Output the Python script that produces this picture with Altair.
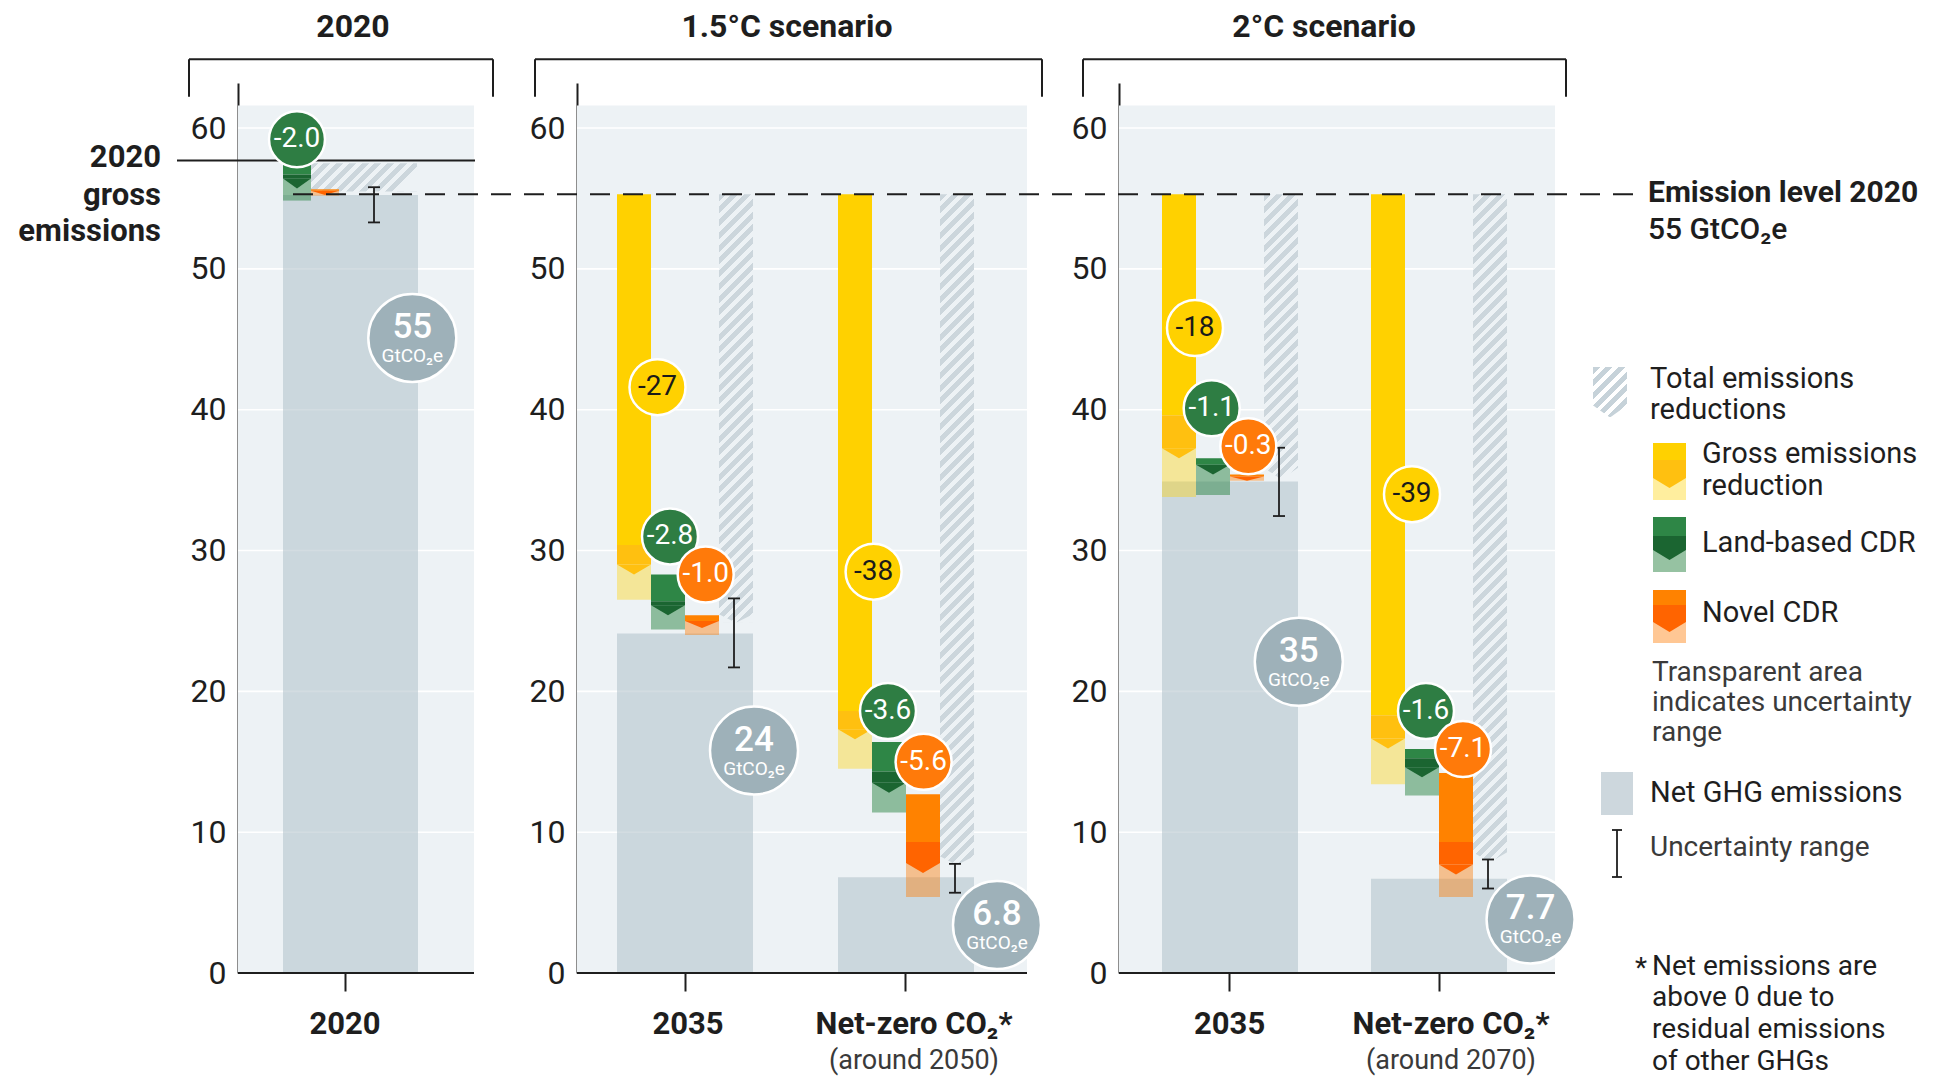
import math
import altair as alt
import pandas as pd

# ------------------------------------------------------------------ data
PANEL_TITLES = ["2020", "1.5°C scenario", "2°C scenario"]
GROUP_NAMES = [["2020"], ["2035", "Net-zero CO₂*"], ["2035", "Net-zero CO₂*"]]
GROUP_NOTES = [[""], ["", "(around 2050)"], ["", "(around 2070)"]]
Y_TICKS = [0, 10, 20, 30, 40, 50, 60]
GRID_LINES = [10, 20, 30, 40, 50, 60]

EMISSION_LEVEL_2020 = 55.3      # dashed reference line (labelled 55 GtCO2e)
GROSS_2020 = 57.7               # 2020 gross emissions line

# contribution bars: panel, group, kind, top, end of solid part, central estimate, end of range
BAR_PANEL = [0, 0, 1, 1, 1, 1, 1, 1, 2, 2, 2, 2, 2, 2]
BAR_GROUP = [0, 0, 0, 0, 0, 1, 1, 1, 0, 0, 0, 1, 1, 1]
BAR_KIND = ["land", "novel", "gross", "land", "novel", "gross", "land", "novel",
            "gross", "land", "novel", "gross", "land", "novel"]
BAR_TOP = [57.7, 55.65, 55.3, 28.3, 25.4, 55.3, 16.4, 12.7, 55.3, 36.55, 35.4, 55.3, 15.9, 14.2]
BAR_SOLID_END = [56.7, 55.55, 30.4, 26.4, 25.0, 18.6, 14.3, 9.3, 39.6, 36.1, 35.25, 18.3, 15.25, 9.3]
BAR_CENTRAL = [55.7, 55.25, 28.3, 25.4, 24.5, 16.6, 12.8, 7.1, 36.55, 35.4, 34.95, 15.95, 13.9, 7.0]
BAR_RANGE_END = [54.85, 55.2, 26.5, 24.4, 24.0, 14.5, 11.4, 5.4, 33.8, 33.95, 34.95, 13.4, 12.6, 5.4]
BAR_LABEL = ["-2.0", "", "-27", "-2.8", "-1.0", "-38", "-3.6", "-5.6",
             "-18", "-1.1", "-0.3", "-39", "-1.6", "-7.1"]
BAR_LABEL_LEVEL = [59.2, None, 41.6, 31.0, 28.3, 28.5, 18.6, 15.0, 45.8, 40.1, 37.4, 34.0, 18.6, 15.9]

# per group totals
TOT_PANEL = [0, 1, 1, 2, 2]
TOT_GROUP = [0, 0, 1, 0, 1]
TOT_TOP = [57.5, 55.3, 55.3, 55.3, 55.3]
TOT_END = [55.5, 25.5, 8.3, 35.9, 8.6]
TOT_TIP = [55.5, 24.9, 7.7, 35.1, 7.9]
NET_VALUE = [55.25, 24.1, 6.8, 34.9, 6.7]
NET_LABEL = ["55", "24", "6.8", "35", "7.7"]
NET_LABEL_LEVEL = [45.1, 15.8, 3.4, 22.1, 3.8]
UNC_HIGH = [55.8, 26.6, 7.75, 37.3, 8.06]
UNC_LOW = [53.3, 21.7, 5.7, 32.45, 6.0]

# ------------------------------------------------------------------ layout / style
FONT = "Roboto"
INK = "#1E1E1E"
GREY_TXT = "#3A3A3A"
BG = "#EDF2F5"
STRIPE = "#CCD6DC"
NET_FILL = "#B3C3CC"
NET_CIRCLE = "#9EB1B9"

PLOT_H = 890
Y_MAX = 63.2
BG_TOP = 61.6
PPU = PLOT_H / Y_MAX
PANEL_W = [247, 450, 436]
BG_W = [236, 450, 436]
SPACING = 92
GROUP_LEFT = [[45], [40, 261], [43, 252]]
SLOT_W = [28, 34, 34]
NET_W = [135, 136, 136]
TICK_X = [[107], [108, 328], [110, 320]]
NAME_X = [[107], [111, 337], [110.6, 332]]
BAR_LABEL_DX = [0, 0, 23.5, 2, 3.7, 18.6, -1, 0.6, 16, -1.3, 1.3, 24, 4, 7]
NET_LABEL_DX = [-5.7, 1, 23, 0.8, 23.6]
CHEV_PX = 10
LABEL_D = 56
NET_D = 88

KIND_STYLE = {
    "gross": dict(main="#FFD100", dark="#FFC010", pale="#FFD100", pop=0.38, circ="#FFD100", txt="#1A1A1A"),
    "land": dict(main="#2E8646", dark="#1B6531", pale="#2E8646", pop=0.5, circ="#2E7D43", txt="#FFFFFF"),
    "novel": dict(main="#FF8200", dark="#FF6400", pale="#FF7A00", pop=0.42, circ="#FF7A0A", txt="#FFFFFF"),
}
KIND_SLOT = {"gross": 0, "land": 1, "novel": 2}

ys = alt.Scale(domain=[0, Y_MAX], nice=False, zero=False)
Y_AXIS = alt.Axis(values=Y_TICKS, grid=False, ticks=False, domain=True, domainColor=INK, domainWidth=2,
                  labelFont=FONT, labelFontSize=32, labelColor=INK, labelPadding=12, title=None)


def yv(ypx):
    """pixel offset from plot top -> data units"""
    return (PLOT_H - ypx) / PPU


def hatch_fill(w, h, bgc, stripe, period=9.0, frac=0.55):
    L = (w + h) / math.sqrt(2)
    stops = []
    d = 0.0
    while d < L:
        a = d / L
        b = min(1.0, (d + period * frac) / L)
        c = min(1.0, (d + period) / L)
        stops += [dict(offset=round(a, 5), color=stripe), dict(offset=round(b, 5), color=stripe),
                  dict(offset=round(b, 5), color=bgc), dict(offset=round(c, 5), color=bgc)]
        d += period
    k = (1 / h + 1 / w) / (1 / h ** 2 + 1 / w ** 2)
    return dict(gradient="linear", x1=0, y1=0, x2=round(k / h, 6), y2=round(k / w, 6), stops=stops)


def bar_row(x0, w, kind, top, s, m, pend):
    st = KIND_STYLE[kind]
    hpx = min(CHEV_PX, max(0.5, (s - m) * PPU))
    c = m + hpx / PPU
    k = 2 * hpx / w
    return dict(x0=x0, x1=x0 + w, xc=x0 + w / 2, top=top, s=s, c=c, p=pend,
                main=st["main"], dark=st["dark"], pale=st["pale"], pop=st["pop"],
                shp=f"M-1,0L1,0L0,{k:.4f}Z", sz=w * w)


def bar_layers(df, X, Y):
    base = alt.Chart(df)
    return [
        base.mark_rect().encode(x=X("x0"), x2="x1", y=Y("c"), y2="p",
                                fill=alt.Fill("pale:N", scale=None), opacity=alt.Opacity("pop:Q", scale=None)),
        base.mark_rect().encode(x=X("x0"), x2="x1", y=Y("top"), y2="s", fill=alt.Fill("main:N", scale=None)),
        base.mark_rect().encode(x=X("x0"), x2="x1", y=Y("s"), y2="c", fill=alt.Fill("dark:N", scale=None)),
        base.mark_point(filled=True, opacity=1, strokeWidth=0).encode(
            x=X("xc"), y=Y("c"), shape=alt.Shape("shp:N", scale=None), size=alt.Size("sz:Q", scale=None),
            fill=alt.Fill("dark:N", scale=None)),
    ]


def hatch_layers(x0, x1, top, end, tip, bgc, stripe, X, Y):
    """hatched column whose bottom is pointed (tip); corners cut with background colour"""
    w = x1 - x0
    low = min(end, tip)
    h = max(1.0, (top - low) * PPU)
    df = pd.DataFrame([dict(x0=x0, x1=x1, y0=top, y1=low, xc=(x0 + x1) / 2)])
    out = [alt.Chart(df).mark_rect(fill=hatch_fill(w, h, bgc, stripe)).encode(
        x=X("x0"), x2="x1", y=Y("y0"), y2="y1")]
    tpx = (end - tip) * PPU
    if tpx > 0.5:
        k = 2 * tpx / w
        path = (f"M-1.03,{-k:.4f}L-1.03,0.03L0,0.03Z"
                f"M1.03,{-k:.4f}L1.03,0.03L0,0.03Z")
        out.append(alt.Chart(df).mark_point(filled=True, opacity=1, strokeWidth=0, fill=bgc,
                                            shape=path, size=w * w).encode(x=X("xc"), y=Y("y1")))
    return out


def rules(rows, X, Y, color=INK, width=2.0, dash=None, offset=0):
    df = pd.DataFrame([dict(x0=a, x1=b, y0=c, y1=d) for a, b, c, d in rows])
    kw = dict(color=color, strokeWidth=width)
    if dash:
        kw.update(strokeDash=dash, strokeDashOffset=offset)
    return alt.Chart(df).mark_rule(**kw).encode(x=X("x0"), x2="x1", y=Y("y0"), y2="y1")


def texts(rows, X, Y, size, weight="normal", align="left", color=INK, dy=0):
    df = pd.DataFrame([dict(x=x, y=y, t=t) for x, y, t in rows])
    return alt.Chart(df).mark_text(font=FONT, fontSize=size, fontWeight=weight, align=align,
                                   baseline="middle", color=color, dy=dy).encode(
        x=X("x"), y=Y("y"), text="t:N")


def make_panel(p):
    W, BW = PANEL_W[p], BG_W[p]
    xs = alt.Scale(domain=[0, W], nice=False, zero=False)
    x_axis = alt.Axis(values=TICK_X[p], labels=False, domain=False, grid=False, ticks=True,
                      tickSize=18, tickWidth=2, tickColor=INK, title=None)

    def X(f):
        return alt.X(f + ":Q", scale=xs, axis=x_axis)

    def Y(f):
        return alt.Y(f + ":Q", scale=ys, axis=Y_AXIS)

    L = []
    bg = pd.DataFrame({"x0": [0], "x1": [BW], "y0": [0], "y1": [BG_TOP]})
    L.append(alt.Chart(bg).mark_rect(fill=BG).encode(x=X("x0"), x2="x1", y=Y("y0"), y2="y1"))

    if p == 0:  # layout anchor (white, invisible)
        L.append(alt.Chart(pd.DataFrame([dict(x0=-230, x1=-229, y0=yv(-75), y1=yv(-74))])).mark_rect(
            fill="white").encode(x=X("x0"), x2="x1", y=Y("y0"), y2="y1"))

    # white grid lines
    L.append(rules([(0, BW, g, g) for g in GRID_LINES], X, Y, color="white", width=1.6))

    # 2020 gross line
    if p == 0:
        L.append(rules([(-61, 237, GROSS_2020, GROSS_2020)], X, Y, width=2))

    tot_idx = [i for i in range(len(TOT_PANEL)) if TOT_PANEL[i] == p]
    # net bars
    net_rows = []
    for i in tot_idx:
        g = TOT_GROUP[i]
        x0 = GROUP_LEFT[p][g]
        net_rows.append(dict(x0=x0, x1=x0 + NET_W[p], y0=0, y1=NET_VALUE[i]))
    L.append(alt.Chart(pd.DataFrame(net_rows)).mark_rect(fill=NET_FILL, opacity=0.58).encode(
        x=X("x0"), x2="x1", y=Y("y0"), y2="y1"))

    # hatched totals
    for i in tot_idx:
        g = TOT_GROUP[i]
        left = GROUP_LEFT[p][g]
        if p == 0:
            hx0, hx1 = left + SLOT_W[p], left + 134
        else:
            hx0, hx1 = left + 3 * SLOT_W[p], left + 4 * SLOT_W[p]
        L += hatch_layers(hx0, hx1, TOT_TOP[i], TOT_END[i], TOT_TIP[i], BG, STRIPE, X, Y)
        if p == 0:
            cut = pd.DataFrame([dict(x=hx1 + 0.5, y=TOT_END[i])])
            L.append(alt.Chart(cut).mark_point(filled=True, opacity=1, strokeWidth=0, fill=BG,
                                               shape="M0,0L0,-1.75L-2,0Z", size=576).encode(
                x=X("x"), y=Y("y")))

    # contribution bars
    bidx = [i for i in range(len(BAR_PANEL)) if BAR_PANEL[i] == p]
    rows = []
    for i in bidx:
        g = BAR_GROUP[i]
        slot = KIND_SLOT[BAR_KIND[i]] - (1 if p == 0 else 0)
        x0 = GROUP_LEFT[p][g] + slot * SLOT_W[p]
        rows.append(bar_row(x0, SLOT_W[p], BAR_KIND[i], BAR_TOP[i], BAR_SOLID_END[i],
                            BAR_CENTRAL[i], BAR_RANGE_END[i]))
    L += bar_layers(pd.DataFrame(rows), X, Y)

    # uncertainty bars
    urows, caps = [], []
    for i in tot_idx:
        g = TOT_GROUP[i]
        left = GROUP_LEFT[p][g]
        ux = 136 if p == 0 else left + 3.5 * SLOT_W[p] - 2
        urows.append((ux, ux, UNC_HIGH[i], UNC_LOW[i]))
        caps += [(ux - 6, ux + 6, UNC_HIGH[i], UNC_HIGH[i]), (ux - 6, ux + 6, UNC_LOW[i], UNC_LOW[i])]
    L.append(rules(urows + caps, X, Y, width=1.8))

    # x axis line
    L.append(rules([(0, BW, 0, 0)], X, Y, width=2))

    # dashed 2020 emission level
    dash_span = {0: (55, PANEL_W[0] + SPACING, 0), 1: (0, PANEL_W[1] + SPACING, 20), 2: (0, 521, 1)}[p]
    L.append(rules([(dash_span[0], dash_span[1], EMISSION_LEVEL_2020, EMISSION_LEVEL_2020)], X, Y,
                   width=2, dash=[20, 13], offset=dash_span[2]))

    # reduction labels
    lrows = []
    for j, i in enumerate(bidx):
        if not BAR_LABEL[i]:
            continue
        st = KIND_STYLE[BAR_KIND[i]]
        lrows.append(dict(x=rows[j]["xc"] + BAR_LABEL_DX[i], y=BAR_LABEL_LEVEL[i], t=BAR_LABEL[i],
                          circ=st["circ"], txt=st["txt"]))
    ldf = pd.DataFrame(lrows)
    L.append(alt.Chart(ldf).mark_circle(size=LABEL_D ** 2, opacity=1, stroke="white", strokeWidth=2.5).encode(
        x=X("x"), y=Y("y"), fill=alt.Fill("circ:N", scale=None)))
    L.append(alt.Chart(ldf).mark_text(font=FONT, fontSize=28, baseline="middle", align="center").encode(
        x=X("x"), y=Y("y"), text="t:N", color=alt.Color("txt:N", scale=None)))

    # net value circles
    nrows = []
    for i in tot_idx:
        g = TOT_GROUP[i]
        nrows.append(dict(x=GROUP_LEFT[p][g] + NET_W[p] + NET_LABEL_DX[i], y=NET_LABEL_LEVEL[i],
                          t=NET_LABEL[i], u="GtCO₂e"))
    ndf = pd.DataFrame(nrows)
    L.append(alt.Chart(ndf).mark_circle(size=NET_D ** 2, opacity=1, fill=NET_CIRCLE, stroke="white",
                                        strokeWidth=2.5).encode(x=X("x"), y=Y("y")))
    L.append(alt.Chart(ndf).mark_text(font=FONT, fontSize=35, fontWeight=500, color="white", baseline="middle",
                                      align="center", dy=-11).encode(x=X("x"), y=Y("y"), text="t:N"))
    L.append(alt.Chart(ndf).mark_text(font=FONT, fontSize=19, color="white", baseline="middle",
                                      align="center", dy=18).encode(x=X("x"), y=Y("y"), text="u:N"))

    # title and bracket
    title_x = [115, 210, 205][p]
    br = [(-49, 255), (-42, 465), (-36, 447)][p]
    L.append(texts([(title_x, yv(-56), PANEL_TITLES[p])], X, Y, 32, weight="bold", align="center"))
    L.append(rules([(br[0], br[1], yv(-23.7), yv(-23.7)), (br[0], br[0], yv(-23.7), yv(13.7)),
                    (br[1], br[1], yv(-23.7), yv(13.7))], X, Y, width=2))

    # category labels under the axis
    L.append(texts([(NAME_X[p][g], yv(942), GROUP_NAMES[p][g]) for g in range(len(GROUP_NAMES[p]))],
                   X, Y, 31, weight="bold", align="center"))
    notes = [(NAME_X[p][g], yv(978), GROUP_NOTES[p][g]) for g in range(len(GROUP_NOTES[p])) if GROUP_NOTES[p][g]]
    if notes:
        L.append(texts(notes, X, Y, 27, align="center", color=GREY_TXT))

    if p == 0:
        L.append(texts([(-77, yv(75), "2020"), (-77, yv(113), "gross"), (-77, yv(149), "emissions")],
                       X, Y, 31, weight="bold", align="right"))

    if p == 2:
        L.append(texts([(529, yv(110), "Emission level 2020")], X, Y, 30, weight="bold"))
        L.append(texts([(529, yv(147), "55 GtCO₂e")], X, Y, 30, weight=500))
        # legend: hatch icon
        L += hatch_layers(474, 508, yv(284), yv(322), yv(334), "#FFFFFF", "#C6D2D9", X, Y)
        L.append(texts([(531, yv(296), "Total emissions"), (531, yv(327), "reductions")], X, Y, 29))
        icons = [
            bar_row(534, 33, "gross", yv(360), yv(377), yv(405), yv(417)),
            bar_row(534, 33, "land", yv(434), yv(453), yv(477), yv(489)),
            bar_row(534, 33, "novel", yv(507), yv(522), yv(549), yv(560)),
        ]
        L += bar_layers(pd.DataFrame(icons), X, Y)
        L.append(texts([(583, yv(371), "Gross emissions"), (583, yv(403), "reduction"),
                        (583, yv(460), "Land-based CDR"), (583, yv(530), "Novel CDR")], X, Y, 29))
        L.append(texts([(533, yv(590), "Transparent area"), (533, yv(620), "indicates uncertainty"),
                        (533, yv(650), "range")], X, Y, 28, color=GREY_TXT))
        L.append(alt.Chart(pd.DataFrame([dict(x0=482, x1=514, y0=yv(689), y1=yv(732))])).mark_rect(
            fill="#CDD7DD").encode(x=X("x0"), x2="x1", y=Y("y0"), y2="y1"))
        L.append(texts([(531, yv(710), "Net GHG emissions")], X, Y, 29))
        L.append(rules([(498, 498, yv(747), yv(794)), (493, 503, yv(747), yv(747)),
                        (493, 503, yv(794), yv(794))], X, Y, width=1.8))
        L.append(texts([(531, yv(765), "Uncertainty range")], X, Y, 28, color=GREY_TXT))
        L.append(texts([(528, yv(886), "*")], X, Y, 28, align="right"))
        L.append(texts([(533, yv(884), "Net emissions are"), (533, yv(915), "above 0 due to"),
                        (533, yv(947), "residual emissions"), (533, yv(979), "of other GHGs")], X, Y, 28))

    return alt.layer(*L).properties(width=W, height=PLOT_H)


chart = (alt.hconcat(*[make_panel(p) for p in range(3)], spacing=SPACING, bounds="flush",
                     padding=0, background="white")
         .configure_view(stroke="transparent", strokeWidth=0))

chart.save("out.html", embed_options={"renderer": "svg", "actions": False})
